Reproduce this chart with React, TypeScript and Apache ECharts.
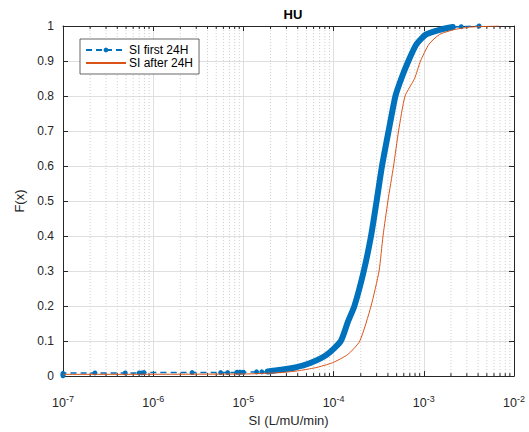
import { useEffect, useRef } from "react";
import * as echarts from "echarts";

// ---- Data ----
const seriesFirstName = "SI first 24H";
const seriesAfterName = "SI after 24H";

// ECDF of SI, first 24 hours (x in L/mU/min, y = F(x))
const firstX = [
  1e-7, 1e-7, 1e-7, 2.26e-7, 4.9e-7, 7.0e-7, 7.5e-7, 7.9e-7, 2.7e-6, 5.6e-6,
  6.7e-6, 8.5e-6, 9.2e-6, 1.0e-5, 1.4e-5, 1.6e-5, 1.86e-5, 2.4e-5, 3.65e-5,
  5.6e-5, 8.5e-5, 1.2e-4, 1.44e-4, 1.7e-4, 2.16e-4, 2.6e-4, 3.0e-4, 3.44e-4,
  4.07e-4, 4.85e-4, 5.6e-4, 6.75e-4, 8.3e-4, 1.06e-3, 1.55e-3, 2.1e-3, 2.6e-3,
  4.1e-3,
];
const firstY = [
  0.001, 0.004, 0.008, 0.009, 0.009, 0.009, 0.009, 0.01, 0.01, 0.01, 0.01,
  0.011, 0.011, 0.011, 0.012, 0.012, 0.013, 0.017, 0.024, 0.038, 0.062, 0.1,
  0.155, 0.2, 0.3, 0.4, 0.5, 0.6, 0.7, 0.8, 0.848, 0.9, 0.948, 0.976, 0.99,
  0.997, 0.998, 1.0,
];
// the part of the first series that is so dense its markers merge into a band
const bandFromX = 1.86e-5;
const bandToX = 2.1e-3;

// ECDF of SI, after 24 hours
const afterX = [
  1e-7, 1e-5, 2.6e-5, 4.0e-5, 6.3e-5, 9.7e-5, 1.44e-4, 1.95e-4, 2.6e-4,
  3.19e-4, 3.53e-4, 4.0e-4, 4.62e-4, 5.25e-4, 6.2e-4, 7.9e-4, 9.2e-4, 1.14e-3,
  1.5e-3, 2.2e-3, 3.3e-3, 6.8e-3,
];
const afterY = [
  0.005, 0.006, 0.01, 0.015, 0.024, 0.038, 0.062, 0.1, 0.2, 0.3, 0.4, 0.5,
  0.6, 0.7, 0.8, 0.85, 0.9, 0.948, 0.976, 0.99, 0.997, 1.0,
];

// axes
const xMin = 1e-7;
const xMax = 1e-2;
const yMin = 0;
const yMax = 1;
const yStep = 0.1;
const minorMultipliers = [2, 3, 4, 5, 6, 7, 8, 9];
const minorDecades = [-7, -6, -5, -4, -3];

const FONT = "'Liberation Sans', Arial, Helvetica, sans-serif";
const AXIS = "#262626";
const BLUE = "#0072BD";
const ORANGE = "#D95319";
const SMOOTH = 0.2;

export default function App() {
  const ref = useRef<HTMLDivElement>(null);

  useEffect(() => {
    if (!ref.current) return;
    const chart = echarts.init(ref.current, undefined, { renderer: "svg" });

    const firstData = firstX.map((x, i) => [x, firstY[i]]);
    const bandData = firstData.filter((p) => p[0] >= bandFromX && p[0] <= bandToX);
    const afterData = afterX.map((x, i) => [x, afterY[i]]);
    const minorData: number[][] = [];
    minorDecades.forEach((d) =>
      minorMultipliers.forEach((m) => minorData.push([m * Math.pow(10, d), 0]))
    );

    const axisLine = { show: true, onZero: false, lineStyle: { color: AXIS, width: 1 } };
    const tick = { show: true, inside: true, length: 5, lineStyle: { color: AXIS, width: 1 } };

    const option: any = {
      animation: false,
      backgroundColor: "#ffffff",
      title: {
        text: "HU",
        left: 288,
        top: 3,
        textAlign: "center",
        textStyle: { fontFamily: FONT, fontSize: 13, fontWeight: "bold", color: "#000" },
      },
      legend: {
        data: [
          { name: seriesFirstName },
          { name: seriesAfterName, itemStyle: { opacity: 0 } },
        ],
        orient: "vertical",
        left: 80,
        top: 39,
        itemWidth: 40,
        itemHeight: 6,
        itemGap: 1,
        backgroundColor: "#ffffff",
        borderColor: AXIS,
        borderWidth: 0.7,
        borderRadius: 0,
        padding: [5, 6, 5, 5],
        textStyle: { fontFamily: FONT, fontSize: 12, color: "#000", padding: [0, 0, 0, -2] },
      },
      grid: { left: 63, right: 15, top: 26, bottom: 51 },
      xAxis: [
        {
          type: "log",
          logBase: 10,
          min: xMin,
          max: xMax,
          name: "SI (L/mU/min)",
          nameLocation: "middle",
          nameGap: 35,
          nameTextStyle: { fontFamily: FONT, fontSize: 13, color: AXIS },
          axisLine,
          axisTick: tick,
          axisLabel: {
            margin: 18,
            color: AXIS,
            formatter: (v: number) => `{b|10}{s|${Math.round(Math.log10(v))}}`,
            rich: {
              b: { fontFamily: FONT, fontSize: 12.5, color: AXIS, verticalAlign: "bottom" },
              s: {
                fontFamily: FONT,
                fontSize: 9,
                color: AXIS,
                verticalAlign: "bottom",
                padding: [0, 0, 6, 0],
              },
            },
          },
          splitLine: { show: true, lineStyle: { color: "#dfdfdf", width: 1 } },
        },
        {
          type: "log",
          logBase: 10,
          position: "top",
          min: xMin,
          max: xMax,
          axisLine,
          axisTick: tick,
          axisLabel: { show: false },
          splitLine: { show: false },
        },
      ],
      yAxis: [
        {
          type: "value",
          min: yMin,
          max: yMax,
          interval: yStep,
          name: "F(x)",
          nameLocation: "middle",
          nameGap: 32,
          nameRotate: 90,
          nameTextStyle: { fontFamily: FONT, fontSize: 13, color: AXIS },
          axisLine,
          axisTick: tick,
          axisLabel: { margin: 9, fontFamily: FONT, fontSize: 12, color: AXIS },
          splitLine: { show: true, lineStyle: { color: "#dfdfdf", width: 1 } },
        },
        {
          type: "value",
          position: "right",
          min: yMin,
          max: yMax,
          interval: yStep,
          axisLine,
          axisTick: tick,
          axisLabel: { show: false },
          splitLine: { show: false },
        },
      ],
      series: [
        {
          type: "custom",
          name: "minor",
          silent: true,
          z: 1,
          xAxisIndex: 0,
          yAxisIndex: 0,
          data: minorData,
          renderItem: (_p: any, api: any) => {
            const v = api.value(0);
            const b = api.coord([v, yMin]);
            const t = api.coord([v, yMax]);
            return {
              type: "group",
              children: [
                {
                  type: "line",
                  shape: { x1: b[0], y1: b[1], x2: t[0], y2: t[1] },
                  style: { stroke: "#cccccc", lineWidth: 1, lineDash: [1, 2] },
                },
                {
                  type: "line",
                  shape: { x1: b[0], y1: b[1], x2: b[0], y2: b[1] - 3 },
                  style: { stroke: AXIS, lineWidth: 1 },
                },
                {
                  type: "line",
                  shape: { x1: t[0], y1: t[1], x2: t[0], y2: t[1] + 3 },
                  style: { stroke: AXIS, lineWidth: 1 },
                },
              ],
            };
          },
        },
        {
          type: "line",
          name: "band",
          data: bandData,
          showSymbol: false,
          symbol: "none",
          smooth: SMOOTH,
          lineStyle: { color: BLUE, width: 6, cap: "round", join: "round" },
          itemStyle: { color: BLUE },
          silent: true,
          z: 3,
        },
        {
          type: "line",
          name: seriesFirstName,
          data: firstData,
          symbol: "circle",
          symbolSize: 5,
          showAllSymbol: true,
          smooth: SMOOTH,
          lineStyle: { color: BLUE, width: 1.5, type: [6, 4] },
          itemStyle: { color: BLUE },
          z: 4,
        },
        {
          type: "line",
          name: seriesAfterName,
          data: afterData,
          symbol: "none",
          smooth: SMOOTH,
          lineStyle: { color: ORANGE, width: 1, join: "round" },
          itemStyle: { color: ORANGE },
          z: 5,
        },
      ],
    };

    chart.setOption(option);
    return () => chart.dispose();
  }, []);

  return (
    <div
      ref={ref}
      style={{ position: "absolute", left: 0, top: 0, width: 529, height: 432, background: "#fff" }}
    />
  );
}
